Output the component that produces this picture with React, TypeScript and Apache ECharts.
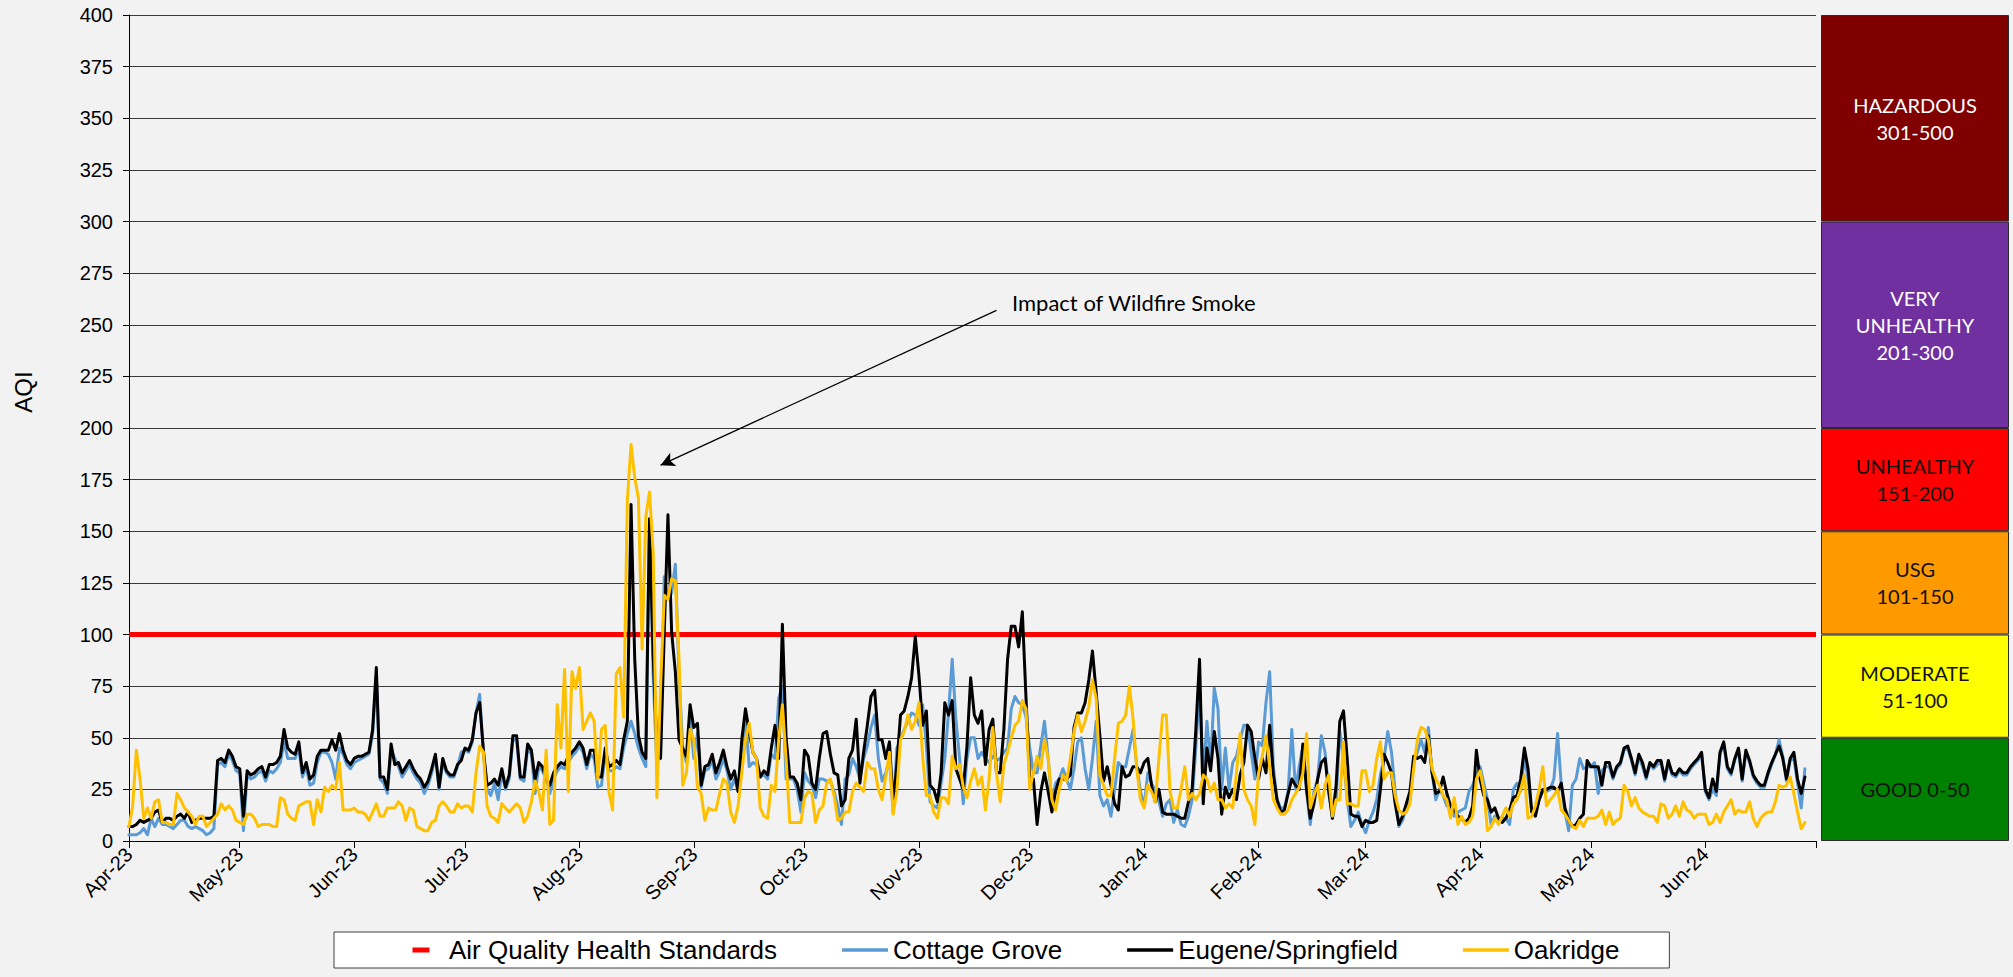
import React, { useEffect, useRef } from "react";
import * as echarts from "echarts";

// ---------- DATA ----------
const startDate = "2023-04-01";
const dayCount = 458; // Apr 1 2023 .. Jul 1 2024 (axis end)
const monthTickLabels = [
  "Apr-23", "May-23", "Jun-23", "Jul-23", "Aug-23", "Sep-23", "Oct-23", "Nov-23",
  "Dec-23", "Jan-24", "Feb-24", "Mar-24", "Apr-24", "May-24", "Jun-24",
];
const yTickStep = 25;
const yMax = 400;
const standardLevel = 100;

// daily AQI from Apr 1 2023 (index 0), ten days per row
const eugeneSpringfield = [
  7, 7, 8, 10, 9, 10, 11, 14, 15, 9,
  11, 11, 10, 12, 13, 11, 14, 9, 10, 11,
  11, 11, 11, 12, 39, 40, 38, 44, 41, 36,
  35, 12, 34, 32, 33, 35, 36, 31, 37, 37,
  38, 41, 54, 45, 43, 42, 48, 33, 38, 30,
  32, 41, 44, 44, 44, 49, 44, 52, 44, 39,
  37, 40, 41, 41, 42, 43, 54, 84, 31, 31,
  25, 47, 37, 38, 33, 36, 39, 35, 32, 30,
  26, 29, 35, 42, 26, 40, 34, 32, 32, 37,
  39, 45, 44, 49, 62, 67, 44, 27, 28, 30,
  27, 35, 26, 32, 51, 51, 31, 31, 47, 44,
  30, 38, 36, 30, 27, 33, 36, 38, 37, 41,
  43, 45, 48, 45, 37, 44, 44, 31, 31, 45,
  36, 37, 39, 37, 49, 58, 163, 88, 51, 43,
  40, 156, 90, 45, 40, 101, 158, 101, 82, 49,
  45, 41, 66, 55, 57, 27, 36, 37, 42, 33,
  38, 44, 36, 30, 34, 24, 49, 64, 53, 43,
  40, 31, 34, 32, 45, 56, 40, 105, 50, 31,
  31, 28, 20, 44, 41, 28, 25, 40, 52, 53,
  42, 33, 32, 17, 20, 40, 44, 59, 28, 43,
  56, 70, 73, 49, 49, 40, 48, 18, 37, 61,
  63, 70, 79, 99, 80, 56, 63, 27, 25, 19,
  33, 67, 61, 68, 35, 30, 25, 46, 79, 61,
  57, 63, 37, 54, 59, 33, 33, 54, 88, 104,
  104, 94, 111, 69, 30, 30, 8, 24, 33, 24,
  14, 24, 30, 30, 30, 32, 55, 62, 62, 67,
  78, 92, 72, 51, 29, 36, 27, 18, 15, 36,
  31, 32, 36, 36, 33, 38, 40, 27, 19, 25,
  14, 13, 13, 13, 12, 11, 11, 19, 25, 54,
  88, 18, 45, 34, 53, 40, 13, 26, 21, 25,
  20, 32, 38, 56, 53, 40, 30, 40, 33, 56,
  32, 20, 14, 15, 23, 30, 27, 25, 47, 25,
  11, 18, 30, 38, 40, 24, 11, 27, 58, 63,
  40, 13, 12, 12, 7, 10, 9, 9, 10, 25,
  42, 38, 33, 18, 8, 12, 18, 24, 41, 40,
  41, 38, 51, 33, 23, 24, 31, 23, 17, 15,
  12, 11, 9, 11, 17, 44, 30, 22, 20, 14,
  16, 11, 9, 11, 15, 21, 22, 30, 45, 35,
  14, 12, 20, 25, 25, 26, 26, 24, 28, 16,
  10, 7, 8, 11, 13, 39, 36, 36, 36, 27,
  38, 38, 31, 36, 38, 45, 46, 40, 33, 42,
  38, 31, 38, 36, 39, 39, 30, 39, 33, 32,
  35, 33, 33, 36, 38, 40, 43, 25, 21, 30,
  24, 43, 48, 36, 33, 40, 45, 30, 44, 39,
  32, 29, 27, 27, 33, 38, 42, 46, 40, 30,
  40, 43, 30, 23, 31,
];

const cottageGrove = [
  3, 3, 3, 4, 6, 3, 11, 7, 11, 8,
  8, 7, 6, 8, 10, 10, 7, 6, 7, 6,
  5, 3, 4, 6, 37, 38, 36, 42, 39, 34,
  33, 5, 32, 30, 31, 33, 34, 29, 34, 33,
  35, 38, 48, 40, 40, 40, 45, 31, 36, 27,
  28, 38, 43, 43, 42, 38, 30, 45, 42, 37,
  35, 38, 39, 40, 41, 42, 52, 80, 30, 28,
  23, 44, 40, 36, 31, 34, 37, 33, 30, 28,
  23, 27, 33, 41, 25, 38, 33, 31, 31, 36,
  43, 44, 43, 48, 62, 71, 42, 25, 22, 28,
  20, 33, 25, 30, 49, 49, 30, 29, 45, 42,
  23, 36, 34, 30, 23, 30, 34, 36, 35, 38,
  41, 43, 46, 43, 35, 42, 40, 26, 27, 42,
  34, 34, 36, 35, 45, 52, 58, 52, 45, 40,
  36, 154, 80, 36, 45, 128, 118, 120, 134, 80,
  45, 38, 60, 40, 52, 26, 34, 35, 39, 30,
  34, 40, 34, 25, 30, 24, 44, 60, 36, 38,
  37, 31, 32, 30, 42, 40, 69, 75, 30, 30,
  30, 25, 14, 33, 29, 27, 21, 30, 30, 29,
  29, 24, 17, 8, 30, 32, 40, 36, 30, 40,
  46, 55, 61, 40, 29, 33, 40, 14, 45, 49,
  54, 58, 62, 61, 56, 66, 46, 19, 17, 16,
  28, 40, 62, 88, 59, 40, 18, 40, 50, 50,
  40, 43, 40, 38, 41, 39, 40, 43, 45, 64,
  70, 67, 66, 60, 45, 33, 33, 46, 58, 40,
  18, 28, 30, 35, 30, 25, 35, 48, 50, 35,
  25, 40, 58, 22, 17, 20, 12, 25, 38, 36,
  36, 45, 54, 36, 24, 17, 33, 28, 24, 19,
  12, 18, 20, 9, 15, 8, 7, 12, 20, 45,
  75, 30, 58, 36, 74, 64, 25, 45, 25, 38,
  41, 49, 56, 56, 43, 30, 48, 46, 67, 82,
  36, 20, 16, 16, 24, 54, 25, 36, 46, 24,
  8, 24, 30, 51, 43, 24, 11, 20, 53, 40,
  20, 7, 10, 14, 8, 4, 10, 14, 20, 32,
  40, 53, 43, 24, 7, 10, 16, 20, 38, 43,
  49, 43, 55, 33, 20, 25, 22, 17, 17, 12,
  14, 15, 16, 24, 27, 32, 36, 28, 20, 8,
  12, 11, 11, 11, 8, 25, 28, 24, 41, 30,
  14, 14, 20, 24, 24, 25, 30, 52, 27, 14,
  5, 27, 30, 40, 35, 36, 36, 38, 23, 34,
  36, 36, 30, 35, 37, 44, 45, 39, 32, 41,
  36, 30, 37, 35, 37, 38, 29, 38, 32, 31,
  34, 32, 32, 35, 37, 39, 42, 24, 20, 25,
  22, 42, 47, 35, 32, 39, 44, 29, 43, 38,
  31, 28, 26, 26, 32, 37, 42, 49, 41, 29,
  39, 40, 28, 16, 35,
];

const oakridge = [
  7, 17, 44, 30, 11, 16, 11, 19, 20, 9,
  9, 8, 8, 23, 20, 16, 14, 12, 8, 12,
  12, 7, 9, 11, 13, 18, 15, 17, 15, 10,
  9, 8, 13, 13, 11, 7, 8, 8, 8, 7,
  7, 21, 20, 13, 11, 10, 17, 18, 19, 19,
  8, 20, 14, 26, 24, 27, 25, 38, 15, 15,
  15, 16, 14, 14, 13, 10, 14, 18, 12, 12,
  16, 16, 16, 19, 17, 10, 16, 15, 7, 6,
  5, 5, 9, 10, 17, 19, 17, 14, 14, 18,
  16, 17, 17, 14, 33, 46, 43, 17, 12, 11,
  9, 18, 16, 14, 16, 18, 16, 9, 12, 19,
  29, 24, 15, 44, 8, 10, 66, 45, 83, 24,
  82, 74, 84, 54, 58, 62, 58, 30, 54, 56,
  24, 15, 81, 84, 60, 165, 192, 176, 166, 93,
  157, 169, 140, 21, 75, 119, 117, 127, 126, 88,
  27, 33, 54, 49, 26, 23, 10, 16, 15, 15,
  23, 30, 28, 14, 9, 17, 33, 49, 57, 43,
  40, 16, 12, 11, 27, 24, 49, 66, 40, 9,
  9, 9, 9, 21, 24, 23, 9, 15, 17, 28,
  30, 22, 10, 11, 14, 14, 24, 28, 26, 24,
  38, 35, 35, 25, 20, 31, 43, 13, 24, 49,
  53, 61, 54, 58, 67, 41, 22, 22, 14, 11,
  21, 21, 18, 41, 35, 37, 26, 21, 29, 35,
  27, 31, 15, 30, 55, 33, 19, 37, 43, 50,
  56, 58, 68, 64, 25, 33, 41, 35, 49, 40,
  20, 15, 25, 32, 29, 40, 53, 61, 53, 58,
  65, 78, 69, 32, 27, 22, 22, 40, 57, 58,
  61, 75, 59, 35, 20, 16, 27, 24, 19, 40,
  61, 61, 24, 16, 16, 25, 36, 20, 23, 20,
  23, 32, 30, 24, 28, 20, 20, 16, 18, 16,
  33, 52, 25, 20, 17, 8, 33, 41, 51, 36,
  20, 16, 13, 13, 15, 20, 23, 26, 33, 52,
  16, 22, 27, 16, 27, 32, 12, 20, 20, 48,
  18, 18, 17, 17, 34, 34, 24, 27, 40, 48,
  30, 33, 33, 22, 15, 13, 14, 18, 35, 49,
  55, 54, 49, 35, 30, 27, 22, 20, 11, 21,
  8, 12, 8, 9, 12, 30, 34, 25, 5, 7,
  11, 8, 12, 16, 12, 18, 20, 25, 32, 11,
  12, 17, 25, 36, 17, 20, 22, 25, 15, 13,
  10, 7, 6, 10, 7, 11, 11, 11, 12, 15,
  8, 14, 8, 10, 11, 27, 24, 17, 21, 16,
  14, 13, 12, 12, 9, 18, 17, 11, 13, 17,
  12, 19, 15, 14, 11, 13, 13, 13, 8, 9,
  13, 9, 14, 17, 20, 13, 15, 14, 14, 19,
  11, 7, 11, 13, 14, 14, 19, 27, 26, 27,
  31, 23, 14, 6, 9,
];

const seriesNames = ["Air Quality Health Standards", "Cottage Grove", "Eugene/Springfield", "Oakridge"];
const seriesColors = ["#FF0000", "#5B9BD5", "#000000", "#FFC000"];

// AQI category bands (bottom to top)
const bandLabels = ["GOOD 0-50", "MODERATE\n51-100", "USG\n101-150", "UNHEALTHY\n151-200", "VERY\nUNHEALTHY\n201-300", "HAZARDOUS\n301-500"];
const bandSpans = [50, 50, 50, 50, 100, 100];
const bandColors = ["#008000", "#FFFF00", "#FF9900", "#FF0000", "#7030A0", "#800000"];
const bandTextColors = ["#111111", "#111111", "#111111", "#111111", "#FFFFFF", "#FFFFFF"];

const annotationText = "Impact of Wildfire Smoke";
const annotationFrom = { date: "2023-11-22", aqi: 257 };
const annotationTo = { date: "2023-08-23", aqi: 182 };

// ---------- helpers ----------
function buildCategories(): string[] {
  const [y, m, d] = startDate.split("-").map(Number);
  const t0 = Date.UTC(y, m - 1, d);
  const out: string[] = [];
  for (let i = 0; i < dayCount; i++) {
    out.push(new Date(t0 + i * 86400000).toISOString().slice(0, 10));
  }
  return out;
}

const ICON_BOX = "M0,0L0.001,0Z M46,14L46.001,14Z ";
const dashIcon = "path://" + ICON_BOX + "M14.5,4.5h17v5h-17Z";
const lineIcon = "path://" + ICON_BOX + "M0,5.2h46v3.6h-46Z";

export default function App() {
  const ref = useRef<HTMLDivElement>(null);

  useEffect(() => {
    if (!ref.current) return;
    const chart = echarts.init(ref.current, null, { renderer: "svg" });
    const categories = buildCategories();
    const lastIdx = categories.length - 1;
    const isMonthStart = (_i: number, v: string) => v.endsWith("-01");
    const fmt = (v: string) => {
      const [yy, mm] = v.split("-").map(Number);
      return monthTickLabels[(yy - 2023) * 12 + (mm - 4)] || "";
    };
    const font = "Liberation Sans";

    const lineSeries = (name: string, color: string, data: number[], extra: any = {}) => ({
      name,
      type: "line",
      xAxisIndex: 0,
      yAxisIndex: 0,
      data,
      symbol: "none",
      showSymbol: false,
      lineStyle: { color, width: 3, join: "round", cap: "round" },
      itemStyle: { color },
      emphasis: { disabled: true },
      ...extra,
    });

    const bandSeries = bandSpans.map((span, i) => ({
      name: "band" + i,
      type: "bar",
      xAxisIndex: 1,
      yAxisIndex: 1,
      stack: "bands",
      barWidth: "100%",
      data: [span],
      silent: true,
      itemStyle: { color: bandColors[i], borderColor: "#2b2b2b", borderWidth: 1 },
      label: {
        show: true,
        position: "inside",
        formatter: bandLabels[i],
        color: bandTextColors[i],
        fontFamily: "Lato",
        fontSize: 20,
        lineHeight: 27,
        align: "center",
      },
    }));

    const option: any = {
      animation: false,
      backgroundColor: "#F2F2F2",
      textStyle: { fontFamily: font },
      grid: [
        { left: 129, right: 197, top: 15, bottom: 136 },
        { left: 1821, right: 4, top: 15, bottom: 136 },
      ],
      xAxis: [
        {
          type: "category",
          gridIndex: 0,
          data: categories,
          boundaryGap: false,
          axisLine: { show: true, lineStyle: { color: "#000", width: 1 } },
          axisTick: { show: true, interval: isMonthStart, length: 7, lineStyle: { color: "#000" } },
          axisLabel: {
            interval: (i: number, v: string) => v.endsWith("-01") && i < lastIdx,
            formatter: fmt,
            rotate: 45,
            margin: 10,
            fontSize: 20,
            color: "#000",
            fontFamily: font,
          },
          splitLine: { show: false },
        },
        { type: "category", gridIndex: 1, data: ["band"], show: false },
      ],
      yAxis: [
        {
          type: "value",
          gridIndex: 0,
          min: 0,
          max: yMax,
          interval: yTickStep,
          axisLine: { show: true, lineStyle: { color: "#000", width: 1 } },
          axisTick: { show: true, length: 6, lineStyle: { color: "#000" } },
          axisLabel: { fontSize: 20, color: "#000", margin: 16, fontFamily: font },
          splitLine: { show: true, lineStyle: { color: "#3a3a3a", width: 1 } },
        },
        { type: "value", gridIndex: 1, min: 0, max: yMax, show: false },
      ],
      legend: {
        data: [
          { name: seriesNames[0], icon: dashIcon },
          { name: seriesNames[1], icon: lineIcon },
          { name: seriesNames[2], icon: lineIcon },
          { name: seriesNames[3], icon: lineIcon },
        ],
        left: 334,
        top: 932,
        padding: [5, 50, 5, 64],
        itemGap: 65,
        itemWidth: 46,
        itemHeight: 14,
        backgroundColor: "#FFFFFF",
        borderColor: "#404040",
        borderWidth: 1,
        selectedMode: false,
        itemStyle: { borderWidth: 0 },
        lineStyle: { width: 0 },
        textStyle: { fontFamily: font, fontSize: 26, color: "#000" },
      },
      graphic: [
        {
          type: "text",
          x: 23,
          y: 392,
          rotation: Math.PI / 2,
          style: {
            text: "AQI",
            font: '24px "Liberation Sans"',
            fill: "#000",
            align: "center",
            verticalAlign: "middle",
            textAlign: "center",
            textVerticalAlign: "middle",
          },
        },
        {
          type: "text",
          x: 1012,
          y: 302,
          style: {
            text: annotationText,
            font: "22px Lato",
            fill: "#000",
            align: "left",
            verticalAlign: "middle",
            textAlign: "left",
            textVerticalAlign: "middle",
          },
        },
      ],
      series: [
        lineSeries(seriesNames[0], seriesColors[0], categories.map(() => standardLevel), {
          lineStyle: { color: seriesColors[0], width: 5 },
        }),
        lineSeries(seriesNames[1], seriesColors[1], cottageGrove),
        lineSeries(seriesNames[2], seriesColors[2], eugeneSpringfield, {
          markLine: {
            silent: true,
            symbol: ["none", "arrow"],
            symbolSize: [11, 14],
            label: { show: false },
            lineStyle: { color: "#000", width: 1.3, type: "solid" },
            emphasis: { disabled: true },
            data: [
              [
                { coord: [annotationFrom.date, annotationFrom.aqi] },
                { coord: [annotationTo.date, annotationTo.aqi] },
              ],
            ],
          },
        }),
        lineSeries(seriesNames[3], seriesColors[3], oakridge),
        ...bandSeries,
      ],
    };

    chart.setOption(option);
    return () => chart.dispose();
  }, []);

  return (
    <div
      ref={ref}
      style={{ position: "fixed", left: 0, top: 0, width: 2013, height: 977, background: "#F2F2F2" }}
    />
  );
}
